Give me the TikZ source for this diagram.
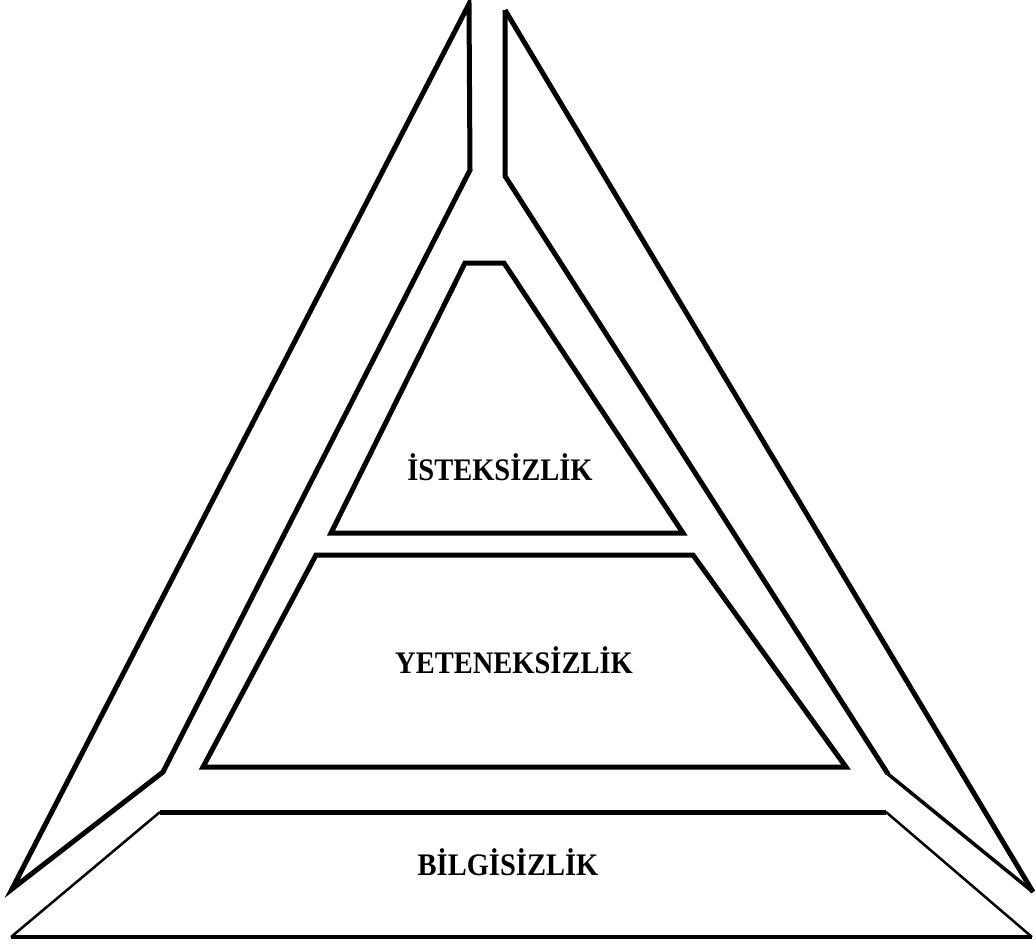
\documentclass[tikz,border=0pt]{standalone}
\usepackage{fontspec}
\setmainfont{Liberation Serif}
\begin{document}
\begin{tikzpicture}[x=1pt,y=-1pt,
  thick line/.style={line width=5pt,line join=miter},
  mid line/.style={line width=3.5pt,line join=miter},
  thin line/.style={line width=2.5pt,line join=miter},
  label/.style={font=\bfseries\fontsize{28.5}{30}\selectfont,anchor=base,inner sep=0pt,yscale=1.1}]
\useasboundingbox (0,0) rectangle (1036,943);
% left arm
\draw[thick line] (469,4) -- (470,170) -- (163,772) -- (12,889) -- cycle;
% right arm
\draw[thick line] (505,10) -- (505,176) -- (888,774);
\draw[mid line] (888,774) -- (1033,892);
\draw[thick line] (505,10) -- (1033,892);
% top trapezoid
\draw[thick line] (465,263) -- (504,263) -- (683,533) -- (331,533) -- cycle;
% middle trapezoid
\draw[thick line] (316,555) -- (693,555) -- (846,767) -- (203,767) -- cycle;
% bottom trapezoid
\draw[thick line] (160,812) -- (886,812);
\draw[thin line] (886,812) -- (1032,937);
\draw[mid line] (1032,937) -- (11,937);
\draw[thin line] (11,937) -- (160,812);
% labels
\node[label] (ist) at (500,480) {İSTEKSİZLİK};
\node[label] (yet) at (514,673) {YETENEKSİZLİK};
\node[label] (bil) at (508,875) {BİLGİSİZLİK};
\end{tikzpicture}
\end{document}
